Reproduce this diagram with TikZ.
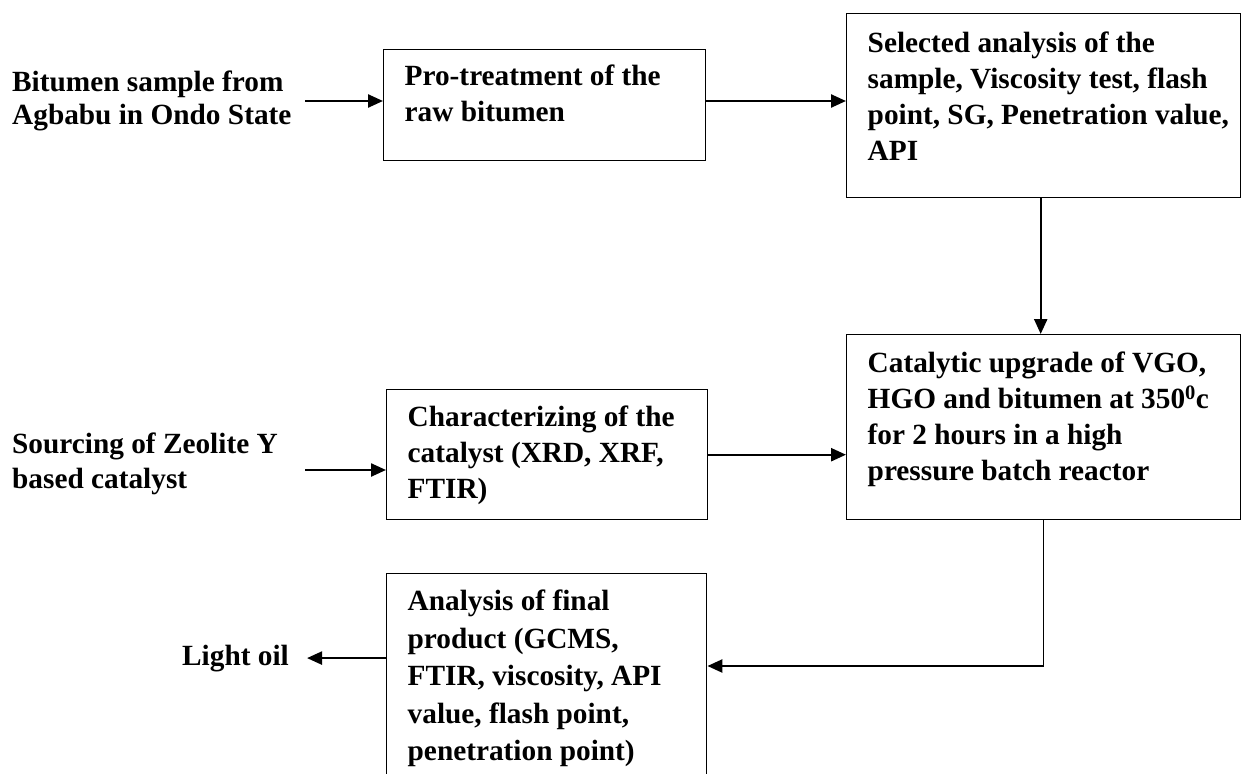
\documentclass[tikz,border=0pt]{standalone}
\usepackage{fontspec}
\setmainfont{Liberation Serif}
\usetikzlibrary{arrows.meta}
\newcommand\boxcontent[4]{\hspace*{21pt}\parbox[c][#2][t]{\dimexpr #1-21pt\relax}{\raggedright\rule{0pt}{#3}#4}}
\begin{document}
\begin{tikzpicture}[x=1pt,y=-1pt,
  font=\fontsize{29.3}{36}\selectfont\bfseries,
  box/.style={draw, line width=1.4pt, inner sep=0pt, anchor=north west},
  txt/.style={inner sep=0pt, anchor=base west},
  arr/.style={line width=2.4pt, -{Triangle[length=15pt,width=13pt]}},
  conn/.style={line width=1.5pt}]
\useasboundingbox (0,0) rectangle (1241,773);
\clip (0,0) rectangle (1241,773);

% nodes
\node[txt] (bit) at (12,92) {\parbox[t]{320pt}{\fontsize{29.3}{33}\selectfont Bitumen sample from\\Agbabu in Ondo State}};
\node[box, minimum width=322pt, minimum height=111pt] (pro) at (383,49)
  {\boxcontent{322pt}{111pt}{36pt}{Pro-treatment of the\\raw bitumen}};
\node[box, minimum width=394pt, minimum height=184pt] (sel) at (846,13)
  {\boxcontent{394pt}{184pt}{39pt}{Selected analysis of the\\sample, Viscosity test, flash\\point, SG, Penetration value,\\API}};
\node[txt] (src) at (12,453) {\parbox[t]{320pt}{\fontsize{29.3}{35}\selectfont Sourcing of Zeolite Y\\based catalyst}};
\node[box, minimum width=321pt, minimum height=130pt] (chr) at (386,389)
  {\boxcontent{321pt}{130pt}{37pt}{Characterizing of the\\catalyst (XRD, XRF,\\FTIR)}};
\node[box, minimum width=394pt, minimum height=185pt] (cat) at (846,334)
  {\boxcontent{394pt}{185pt}{38pt}{Catalytic upgrade of VGO,\\HGO and bitumen at 350\textsuperscript{0}c\\for 2 hours in a high\\pressure batch reactor}};
\node[box, minimum width=320pt, minimum height=230pt] (ana) at (386,573)
  {\boxcontent{320pt}{230pt}{37pt}{\fontsize{29.3}{37.5}\selectfont Analysis of final\\product (GCMS,\\FTIR, viscosity, API\\value, flash point,\\penetration point)}};
\node[txt] (oil) at (182,665) {Light oil};

% connector ends
\coordinate (s1) at (305,101);
\coordinate (s2) at (305,470);
\coordinate (bend) at (795,666);

% connectors
\draw[arr] (s1) -- (s1 -| pro.west);
\draw[arr] (s1 -| pro.east) -- (s1 -| sel.west);
\draw[arr] ([xshift=-3pt]sel.south) -- ([xshift=-3pt]cat.north);
\draw[arr] (s2) -- (s2 -| chr.west);
\draw[arr] (chr.east) -- (chr.east -| cat.west);
\draw[conn] (cat.south) |- (bend);
\draw[arr] (bend) -- (bend -| ana.east);
\draw[arr] (oil.east -| ana.west) -- ([xshift=18pt]oil.east);
\end{tikzpicture}
\end{document}
